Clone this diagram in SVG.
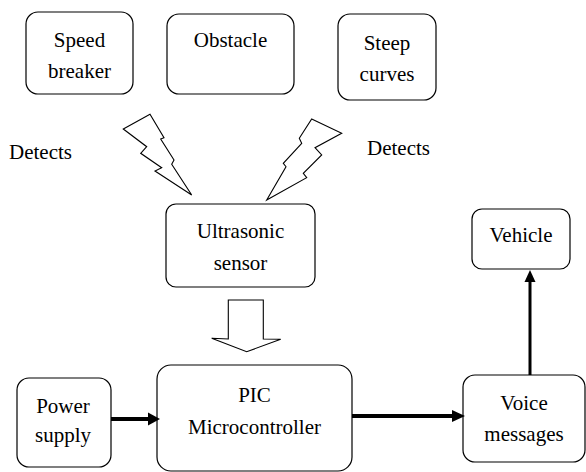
<svg xmlns="http://www.w3.org/2000/svg" width="586" height="472" viewBox="0 0 586 472">
<style>
.box{fill:#fff;stroke:#000;stroke-width:1.2}
text{font-family:"Liberation Serif","Times New Roman",serif;font-size:21px;fill:#000}
.t{text-anchor:middle}
.bolt{fill:#fff;stroke:#000;stroke-width:1.1;stroke-linejoin:miter}
.thick{stroke:#000;fill:none}
.head{fill:#000}
</style>
<rect width="586" height="472" fill="#fff"/>
<g id="speed-breaker">
<rect class="box" x="26" y="12" width="107" height="82" rx="12"/>
<text class="t" x="79.5" y="47">Speed</text>
<text class="t" x="79.5" y="78">breaker</text>
</g>
<g id="obstacle">
<rect class="box" x="167" y="14" width="127" height="80" rx="12"/>
<text class="t" x="230.5" y="47">Obstacle</text>
</g>
<g id="steep-curves">
<rect class="box" x="338" y="14" width="98" height="86" rx="12"/>
<text class="t" x="387" y="50">Steep</text>
<text class="t" x="387" y="81">curves</text>
</g>
<g id="ultrasonic-sensor">
<rect class="box" x="166" y="204" width="149" height="83" rx="10"/>
<text class="t" x="240.5" y="238">Ultrasonic</text>
<text class="t" x="240.5" y="270">sensor</text>
</g>
<g id="vehicle">
<rect class="box" x="472" y="209" width="98" height="60" rx="10"/>
<text class="t" x="521" y="242">Vehicle</text>
</g>
<g id="power-supply">
<rect class="box" x="17" y="378" width="94" height="89" rx="12"/>
<text class="t" x="63" y="413">Power</text>
<text class="t" x="63" y="442">supply</text>
</g>
<g id="pic-microcontroller">
<rect class="box" x="157" y="365" width="195" height="106" rx="14"/>
<text class="t" x="254.5" y="402">PIC</text>
<text class="t" x="254.5" y="434">Microcontroller</text>
</g>
<g id="voice-messages">
<rect class="box" x="463" y="375" width="122" height="87" rx="12"/>
<text class="t" x="524" y="410">Voice</text>
<text class="t" x="524" y="441">messages</text>
</g>
<g id="labels">
<text x="9" y="159">Detects</text>
<text x="367" y="155">Detects</text>
</g>
<g id="connectors">
<path class="bolt" d="M123.3,129 L150,114.3 L164,137.7 L160.7,139 L174,160 L171.7,164.3 L191.7,195 L155,171 L161.7,167.7 L140.7,153.3 L146.7,146.7 Z"/>
<path class="bolt" d="M311.7,119 L341.7,133.3 L315,147.7 L321.7,155 L303.3,173.3 L306.7,177.7 L266.7,200 L286,166.7 L283.3,163.3 L301.7,143.3 L299.3,138.3 Z"/>
<path class="bolt" d="M228.3,300 L263.3,300 L263.3,339 L280.7,339.3 L246.7,351.7 L211.7,338.3 L228.3,339 Z"/>
<line class="thick" x1="111" y1="419" x2="150" y2="419" stroke-width="4"/>
<path class="head" d="M148,412.5 L160,419 L148,425.5 Z"/>
<line class="thick" x1="352" y1="416" x2="454" y2="416" stroke-width="4"/>
<path class="head" d="M452,410 L465,416 L452,422 Z"/>
<line class="thick" x1="530" y1="375" x2="530" y2="280" stroke-width="3"/>
<path class="head" d="M524.5,282 L530,270 L535.5,282 Z"/>
</g>
</svg>
